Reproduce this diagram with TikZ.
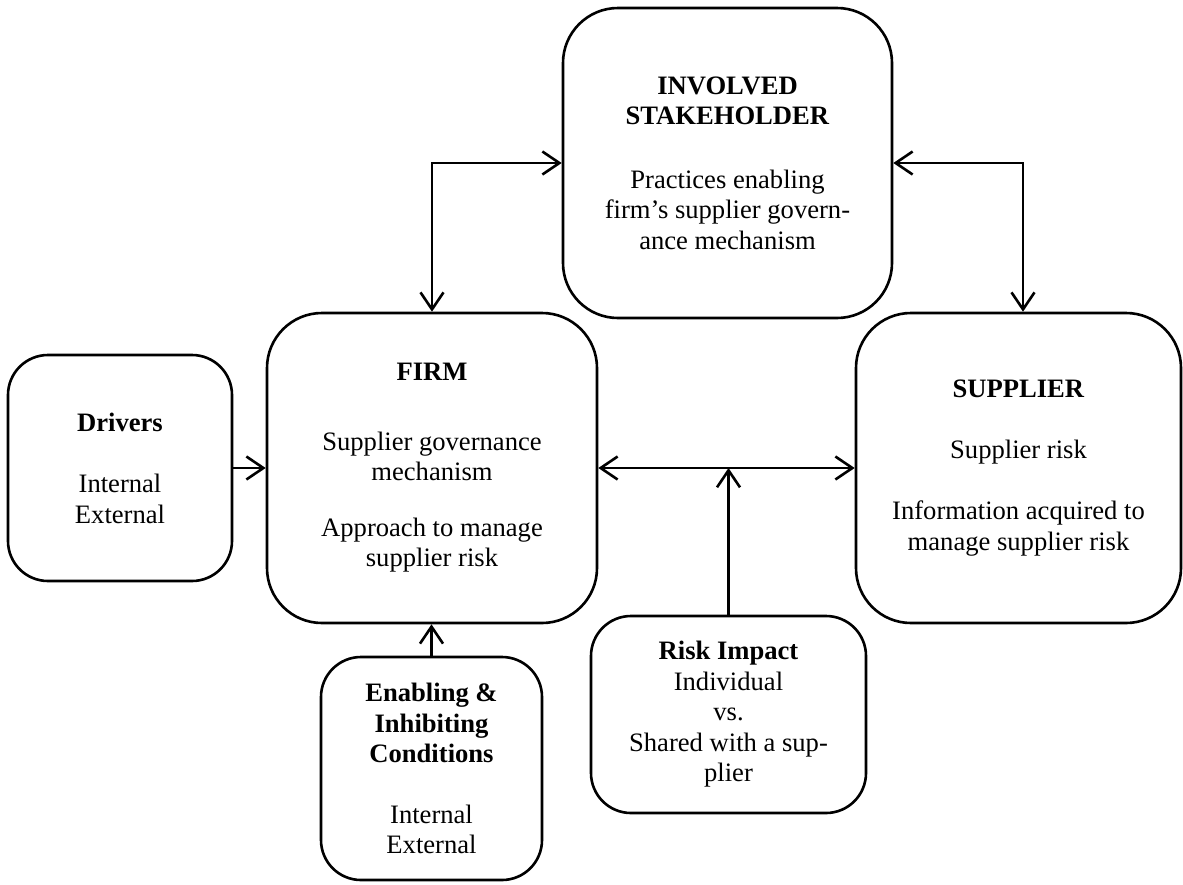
\documentclass[tikz,border=0pt]{standalone}
\usepackage{fontspec}
\setmainfont{Liberation Serif}
\usetikzlibrary{arrows.meta}
\begin{document}
\begin{tikzpicture}[x=1pt,y=-1pt,
  every node/.style={font=\fontsize{26.6}{30.5}\selectfont, align=center},
  bigbox/.style={draw, line width=2.6pt, rounded corners=55pt, inner sep=0pt},
  smallbox/.style={draw, line width=2.6pt, rounded corners=40pt, inner sep=0pt},
  link/.style={line width=2.6pt, {Straight Barb[length=17pt,width=23pt]}-{Straight Barb[length=17pt,width=23pt]}},
  feed/.style={line width=2.6pt, -{Straight Barb[length=17pt,width=23pt]}}]
  \useasboundingbox (0,0) rectangle (1183,884);

  % main actors
  \node[bigbox, minimum width=330pt, minimum height=310pt] (firm) at (432,468)
    {\textbf{FIRM}\\[39pt]Supplier governance\\mechanism\\[25pt]Approach to manage\\supplier risk};
  \node[bigbox, minimum width=329pt, minimum height=310pt] (stake) at (727.5,163)
    {\textbf{INVOLVED}\\\textbf{STAKEHOLDER}\\[33pt]Practices enabling\\firm’s supplier govern-\\ance mechanism};
  \node[bigbox, minimum width=325pt, minimum height=310pt] (sup) at (1018.5,468)
    {\textbf{SUPPLIER}\\[30pt]Supplier risk\\[31pt]Information acquired to\\manage supplier risk};

  % influencing factors
  \node[smallbox, minimum width=224pt, minimum height=226pt] (drv) at (120,468)
    {\textbf{Drivers}\\[31pt]Internal\\External};
  \node[smallbox, minimum width=221pt, minimum height=223pt] (enab) at (431.5,768.5)
    {\textbf{Enabling \&}\\\textbf{Inhibiting}\\\textbf{Conditions}\\[30pt]Internal\\External};
  \node[smallbox, minimum width=275pt, minimum height=197pt] (risk) at (728.5,714.5)
    {\textbf{Risk Impact}\\Individual\\vs.\\Shared with a sup-\\plier};

  % relations
  \draw[link] (firm.north) |- (stake.west);
  \draw[link] (stake.east) -| ([xshift=4.5pt]sup.north);
  \draw[link] (firm) -- (sup);
  \draw[feed] (drv) -- (firm);
  \draw[feed] (enab.north) -- (enab.north |- firm.south);
  \draw[feed] (risk.north) -- (risk.north |- firm.east);
\end{tikzpicture}
\end{document}
